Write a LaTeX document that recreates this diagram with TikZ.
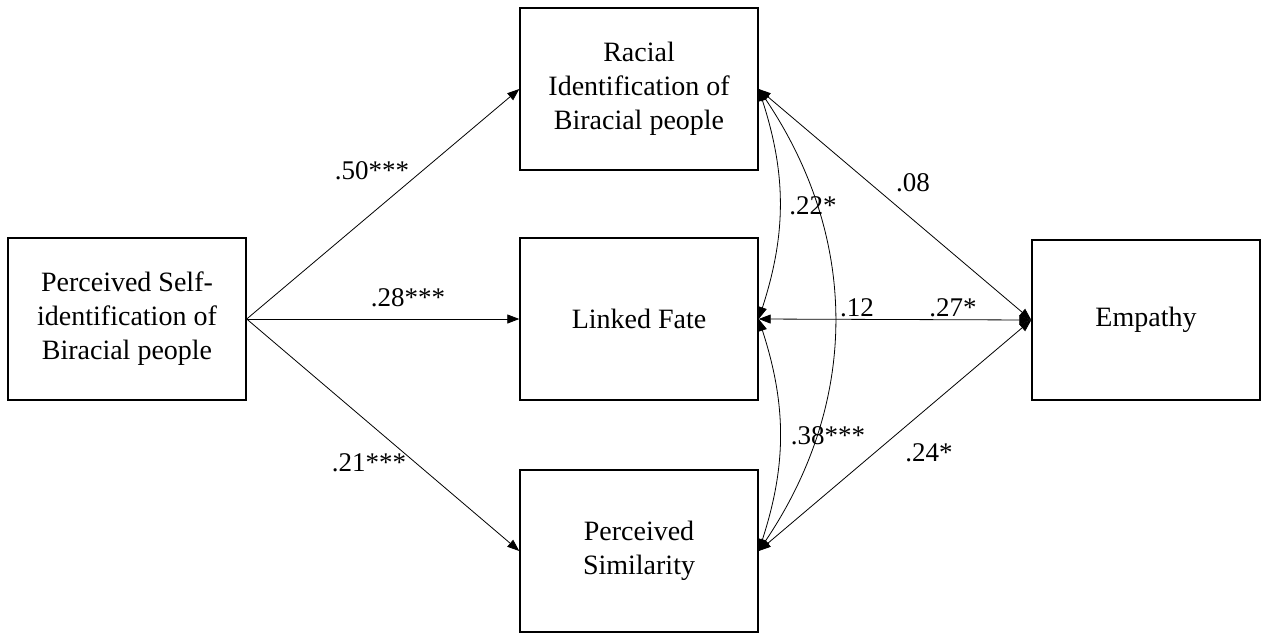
\documentclass[tikz,border=0pt]{standalone}
\usepackage{fontspec}
\setmainfont{Liberation Serif}
\usetikzlibrary{arrows.meta}

\begin{document}
\begin{tikzpicture}[x = 1pt, y = -1pt, font=\fontsize{28}{34}\selectfont]
	\tikzstyle{boxStyle} = [draw, line width = 1.4pt, align = center, inner sep = 0pt, minimum width = 238pt, minimum height = 162pt]
	\tikzstyle{pathStyle} = [line width = 0.8pt, -{Triangle[length = 12pt, width = 9pt]}]
	\tikzstyle{covStyle} = [line width = 0.8pt, {Triangle[length = 12pt, width = 9pt]}-{Triangle[length = 12pt, width = 9pt]}]
	\tikzstyle{coefStyle} = [inner sep = 0pt, font = \fontsize{27}{32}\selectfont]
	\useasboundingbox (0,0) rectangle (1268,633);
	\node[boxStyle] (self) at (127,319) {Perceived Self-\\identification of\\Biracial people};
	\node[boxStyle] (racial) at (639,89) {Racial\\Identification of\\Biracial people};
	\node[boxStyle] (fate) at (639,319) {Linked Fate};
	\node[boxStyle] (similar) at (639,551) {Perceived\\Similarity};
	\node[boxStyle, minimum width = 228pt, minimum height = 160pt] (empathy) at (1146,320) {Empathy};
	\draw[pathStyle] (self.east) -- (racial.west);
	\draw[pathStyle] (self.east) -- (fate.west);
	\draw[pathStyle] (self.east) -- (similar.west);
	\draw[covStyle] (empathy.west) -- (racial.east);
	\draw[covStyle] (empathy.west) -- (fate.east);
	\draw[covStyle] (empathy.west) -- (similar.east);
	\draw[covStyle] (racial.east) to[bend left = 18] (fate.east);
	\draw[covStyle] (fate.east) to[bend left = 18] (similar.east);
	\draw[covStyle] (racial.east) to[bend left = 34] (similar.east);
	\node[coefStyle] (c1) at (372,171) {.50***};
	\node[coefStyle] (c2) at (408,298) {.28***};
	\node[coefStyle] (c3) at (369,463) {.21***};
	\node[coefStyle] (c4) at (913,183) {.08};
	\node[coefStyle] (c5) at (813,206) {.22*};
	\node[coefStyle] (c6) at (857,308) {.12};
	\node[coefStyle] (c7) at (953,308) {.27*};
	\node[coefStyle] (c8) at (828,436) {.38***};
	\node[coefStyle] (c9) at (929,453) {.24*};
\end{tikzpicture}
\end{document}
